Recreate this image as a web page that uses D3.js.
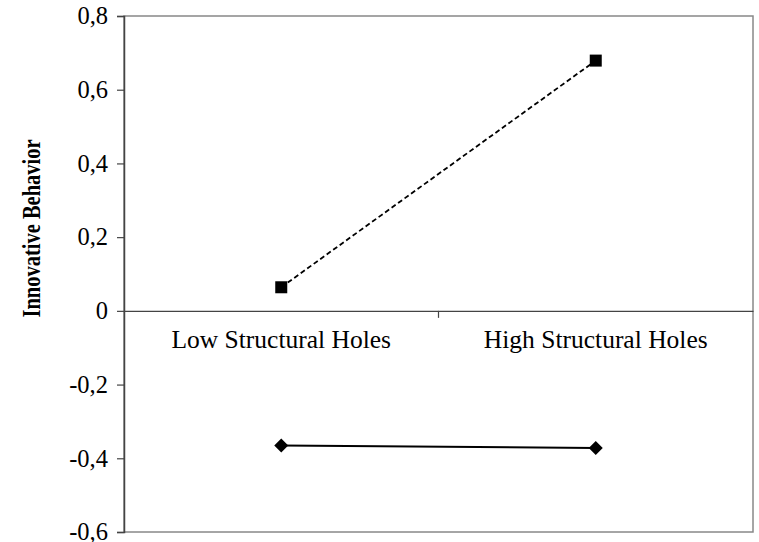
<!DOCTYPE html>
<html><head><meta charset="utf-8">
<script src="https://cdn.jsdelivr.net/npm/d3@7"></script>
<style>body{margin:0;background:#fff}svg{display:block}text{font-family:'Liberation Serif','Times New Roman',serif}</style>
</head><body>
<svg id="c" width="759" height="542"></svg>
<script>
const categories = ["Low Structural Holes", "High Structural Holes"];
const seriesHigh = [0.064, 0.679];   // dashed, squares
const seriesLow = [-0.365, -0.372];  // solid, diamonds
const yTicks = [-0.6, -0.4, -0.2, 0, 0.2, 0.4, 0.6, 0.8];
const yTitle = "Innovative Behavior";

const svg = d3.select("#c");
const L = 124, R = 753, T = 16, B = 532;
const x = d3.scaleBand().domain(categories).range([L, R]).paddingInner(0).paddingOuter(0);
const y = d3.scaleLinear().domain([-0.6, 0.8]).range([B, T]);
const font = "'Liberation Serif','Times New Roman',serif";

// frame
svg.append("rect").attr("x", L).attr("y", T).attr("width", R - L).attr("height", B - T)
  .attr("fill", "none").attr("stroke", "#888").attr("stroke-width", 1.5);

// y axis
const ya = svg.append("g").attr("transform", `translate(${L},0)`)
  .call(d3.axisLeft(y).tickValues(yTicks).tickSize(7).tickPadding(9)
    .tickFormat(d => d3.format(".1f")(d).replace(".", ",").replace("−", "-").replace(/^0,0$/, "0").replace(/^-0,0$/, "0")));
ya.attr("font-family", null);
ya.select(".domain").attr("stroke", "#444").attr("stroke-width", 1.5);
ya.selectAll(".tick line").attr("stroke", "#444").attr("stroke-width", 1.2);
ya.selectAll("text").style("font-family", font).style("font-size", "24.5px").attr("fill", "#000");

// x axis at zero
const xa = svg.append("g").attr("transform", `translate(0,${y(0)})`)
  .call(d3.axisBottom(x).tickSize(0).tickPadding(19));
xa.attr("font-family", null);
xa.select(".domain").attr("stroke", "#444").attr("stroke-width", 1.2);
xa.selectAll("text").style("font-family", font).style("font-size", "25.5px").attr("fill", "#000");
// category separator tick
svg.append("line").attr("x1", x(categories[1])).attr("x2", x(categories[1]))
  .attr("y1", y(0)).attr("y2", y(0) + 7).attr("stroke", "#444").attr("stroke-width", 1.2);

// y title
svg.append("text").attr("transform", `translate(40,228.5) rotate(-90)`)
  .attr("text-anchor", "middle").style("font-family", font).attr("font-weight", "bold")
  .style("font-size", "25px").attr("textLength", 178).attr("lengthAdjust", "spacingAndGlyphs")
  .text(yTitle);

const cx = d => x(d) + x.bandwidth() / 2;
const line = d3.line().x((d, i) => cx(categories[i])).y(d => y(d));

svg.append("path").datum(seriesHigh).attr("d", line).attr("fill", "none")
  .attr("stroke", "#000").attr("stroke-width", 1.8).attr("stroke-dasharray", "5,3");
svg.append("path").datum(seriesLow).attr("d", line).attr("fill", "none")
  .attr("stroke", "#000").attr("stroke-width", 2);

svg.selectAll(".sq").data(seriesHigh).enter().append("rect")
  .attr("x", (d, i) => cx(categories[i]) - 6).attr("y", d => y(d) - 6)
  .attr("width", 12).attr("height", 12).attr("fill", "#000");
svg.selectAll(".dm").data(seriesLow).enter().append("path")
  .attr("transform", (d, i) => `translate(${cx(categories[i])},${y(d)})`)
  .attr("d", "M0,-7L7,0L0,7L-7,0Z").attr("fill", "#000");
</script>
</body></html>
